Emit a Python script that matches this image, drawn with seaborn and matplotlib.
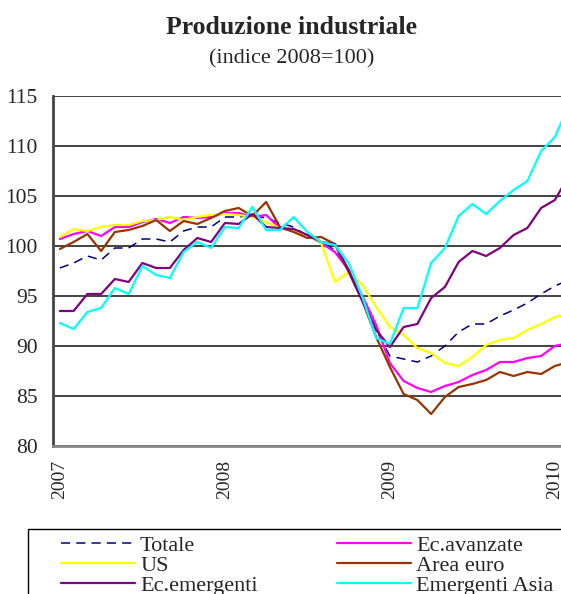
import matplotlib
matplotlib.use("Agg")
import matplotlib.pyplot as plt
import matplotlib.patches as mpatches
import seaborn as sns
import numpy as np
import pandas as pd

# monthly index, Jan 2007 - Feb 2010 (2008=100)
years = ["2007", "2008", "2009", "2010"]
totale = [97.8, 98.3, 99.0, 98.6, 99.8, 99.8, 100.7, 100.7, 100.4, 101.5, 101.9, 101.9,
          102.9, 102.9, 103.1, 102.8, 102.3, 101.9, 101.0, 100.4, 99.6, 97.6, 94.8, 91.6,
          89.0, 88.7, 88.4, 89.0, 90.0, 91.4, 92.2, 92.2, 93.0, 93.6, 94.3, 95.2,
          96.0, 96.6]
ec_avanzate = [100.7, 101.2, 101.5, 101.0, 101.9, 101.9, 102.4, 102.7, 102.3, 102.9, 102.8, 102.9,
               103.3, 103.3, 102.9, 103.1, 101.8, 101.5, 101.1, 100.3, 99.4, 97.6, 95.0, 92.1,
               88.3, 86.5, 85.8, 85.4, 86.0, 86.4, 87.1, 87.6, 88.4, 88.4, 88.8, 89.0,
               90.0, 90.3]
us = [100.9, 101.7, 101.5, 101.9, 102.1, 102.1, 102.5, 102.6, 102.9, 102.6, 102.9, 103.1,
      103.2, 103.1, 102.9, 102.4, 101.8, 101.5, 101.1, 100.3, 96.4, 97.4, 96.1, 93.9,
      91.9, 91.1, 89.8, 89.3, 88.3, 88.0, 88.9, 90.1, 90.6, 90.8, 91.6, 92.2,
      92.9, 93.2]
area_euro = [99.7, 100.4, 101.2, 99.5, 101.4, 101.6, 102.0, 102.6, 101.5, 102.5, 102.2, 102.8,
             103.5, 103.8, 103.0, 104.4, 101.9, 101.4, 100.8, 100.9, 100.2, 97.4, 94.5, 90.9,
             87.9, 85.2, 84.6, 83.2, 84.9, 85.9, 86.2, 86.6, 87.4, 87.0, 87.4, 87.2,
             88.0, 88.4]
ec_emergenti = [93.5, 93.5, 95.2, 95.2, 96.7, 96.4, 98.3, 97.8, 97.8, 99.6, 100.8, 100.4,
                102.3, 102.2, 103.2, 101.9, 101.8, 101.7, 101.1, 100.4, 100.2, 97.6, 94.5, 91.6,
                89.9, 91.9, 92.2, 94.8, 95.9, 98.4, 99.5, 99.0, 99.8, 101.1, 101.8, 103.8,
                104.6, 107.0]
emergenti_asia = [92.3, 91.7, 93.4, 93.8, 95.8, 95.2, 98.0, 97.1, 96.8, 99.4, 100.4, 99.8,
                  101.9, 101.8, 103.9, 101.6, 101.6, 102.9, 101.4, 100.4, 100.1, 98.3, 94.9, 90.8,
                  90.2, 93.8, 93.8, 98.3, 99.8, 103.0, 104.2, 103.2, 104.5, 105.6, 106.5, 109.5,
                  110.9, 114.0]

series = {
    "Totale": (totale, "#000080"),
    "Ec.avanzate": (ec_avanzate, "#FF00FF"),
    "US": (us, "#FFFF00"),
    "Area euro": (area_euro, "#993300"),
    "Ec.emergenti": (ec_emergenti, "#800080"),
    "Emergenti Asia": (emergenti_asia, "#00FFFF"),
}

n = len(totale)
df = pd.DataFrame({k: v[0] for k, v in series.items()})
df["x"] = np.arange(n) + 0.5  # category centres

sns.set_style("white")
plt.rcParams["font.family"] = ["Liberation Serif", "DejaVu Serif"]

fig = plt.figure(figsize=(5.61, 5.94), dpi=100)
ax = fig.add_axes([53 / 561, 1 - 446 / 594, 522.5 / 561, 350 / 594])

handles = {}
for name, (vals, col) in series.items():
    if name == "Totale":
        sns.lineplot(data=df, x="x", y=name, ax=ax, color=col, lw=1.1,
                     dashes=False, linestyle=(0, (6, 4)))
    else:
        sns.lineplot(data=df, x="x", y=name, ax=ax, color=col, lw=1.6)
    handles[name] = ax.lines[-1]

ax.set_xlim(0, 38)
ax.set_ylim(80, 115)
ax.set_yticks(range(80, 116, 5))
ax.set_xlabel("")
ax.set_ylabel("")

# month ticks at category boundaries, year labels on January
ax.set_xticks(range(0, n + 1))
ax.set_xticklabels([])
ax.set_xticks([0.5, 12.5, 24.5, 36.5], minor=True)
ax.set_xticklabels(years, minor=True, rotation=90, fontsize=14)
ax.tick_params(axis="x", which="major", length=5, width=1, color="#333333", direction="out")
ax.tick_params(axis="x", which="minor", length=0, pad=10)
ax.tick_params(axis="y", length=6, width=1.2, color="#333333", direction="out",
               labelsize=15.5, pad=5)

ax.yaxis.grid(True, color="#222222", lw=1.2)
ax.xaxis.grid(False)
for s in ["top", "right"]:
    ax.spines[s].set_visible(False)
ax.spines["left"].set_color("#444444")
ax.spines["left"].set_linewidth(2)
ax.spines["bottom"].set_color("#888888")
ax.spines["bottom"].set_linewidth(2)

fig.text(0.52, 0.953, "Produzione industriale", ha="center", va="center",
         fontsize=18.5, fontweight="bold")
fig.text(0.52, 0.901, "(indice 2008=100)", ha="center", va="center", fontsize=16)

order = ["Totale", "US", "Ec.emergenti", "Ec.avanzate", "Area euro", "Emergenti Asia"]
leg = fig.legend([handles[k] for k in order], order, ncol=2, frameon=False,
                 loc="upper left", bbox_to_anchor=(60.5 / 561, 1 - 535 / 594),
                 fontsize=16, handlelength=3.33, handletextpad=0.25,
                 columnspacing=3.55, labelspacing=-0.02, borderpad=0, borderaxespad=0)
fig.patches.append(mpatches.Rectangle((28 / 561, -0.1), 1.0, 0.1 + 1 - 529 / 594,
                                      transform=fig.transFigure, fill=False,
                                      edgecolor="black", lw=1))

fig.savefig("out.png", dpi=100)
